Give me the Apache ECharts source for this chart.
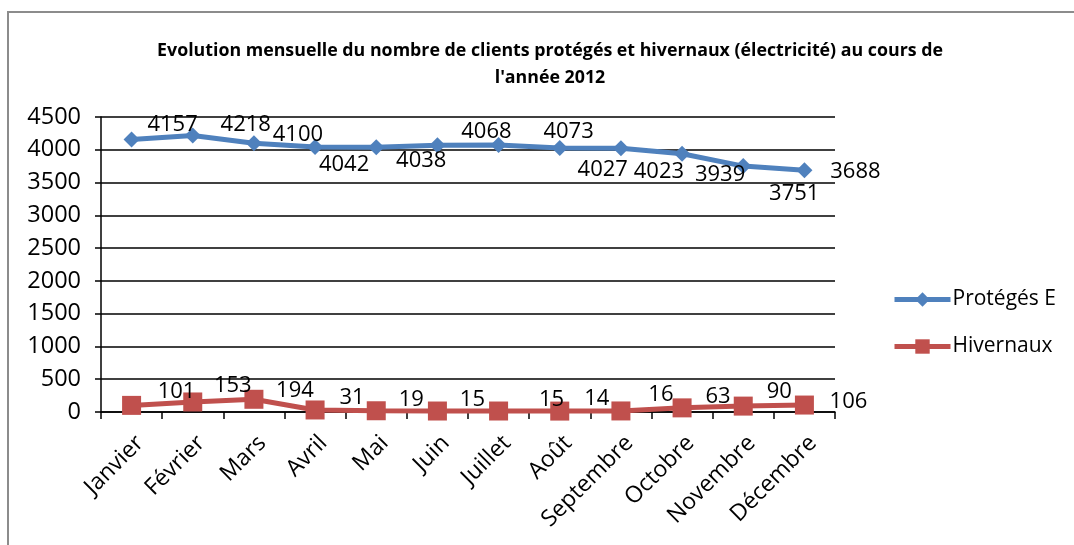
<!DOCTYPE html>
<html>
<head>
<meta charset="utf-8">
<script src="https://cdn.jsdelivr.net/npm/echarts@6/dist/echarts.min.js"></script>
<style>
  html, body { margin:0; padding:0; background:#fff; }
  #chart { width:1074px; height:545px; }
</style>
</head>
<body>
<div id="chart"></div>
<script>
// Months (category axis)
const months = ['Janvier','Février','Mars','Avril','Mai','Juin','Juillet','Août','Septembre','Octobre','Novembre','Décembre'];
// Series values
const protegesE = [4157, 4218, 4100, 4042, 4038, 4068, 4073, 4027, 4023, 3939, 3751, 3688];
const hivernaux = [101, 153, 194, 31, 19, 15, 15, 14, 16, 63, 90, 106];
// Value axis ticks
const yMin = 0, yMax = 4500, yStep = 500;

// label nudges (px), Excel-style manual placement
const protLabelShift = [[41,-15],[53,-11],[44,-8],[29,18],[45,13],[49,-14],[70,-13],[43,22],[38,23],[38,21],[51,28],[51,2]];
const hivLabelShift  = [[45,-14],[40,-16],[41,-9],[37,-12],[35,-11],[35,-11],[53,-11],[37,-12],[40,-16],[36,-11],[36,-14],[44,-3]];

const FONT = '"Open Sans", "Liberation Sans", sans-serif';

function withLabels(vals, shifts){
  return vals.map((v, i) => ({ value: v, label: { offset: shifts[i] } }));
}

const el = document.getElementById('chart');
const inst = echarts.init(el, null, { renderer: 'canvas' });
inst.setOption({
  animation: false,
  backgroundColor: '#fff',
  textStyle: { fontFamily: FONT },
  graphic: [{
    type: 'rect',
    shape: { x: 8, y: 12, width: 1080, height: 560 },
    style: { fill: 'none', stroke: '#8c8c8c', lineWidth: 2 },
    silent: true
  }],
  title: {
    text: 'Evolution mensuelle du nombre de clients protégés et hivernaux (électricité) au cours de\nl\'année 2012',
    left: 545,
    top: 32,
    textAlign: 'center',
    textStyle: { fontFamily: FONT, fontSize: 17.8, fontWeight: 'bold', color: '#000', lineHeight: 27 }
  },
  legend: {
    orient: 'vertical',
    left: 887,
    top: 284,
    itemWidth: 56,
    itemHeight: 18,
    itemGap: 26,
    lineStyle: { width: 5 },
    textStyle: { fontFamily: FONT, fontSize: 21, color: '#000', padding: [0,0,0,-3] },
    data: ['Protégés E', 'Hivernaux']
  },
  grid: { left: 101, right: 239, top: 117, bottom: 133 },
  xAxis: {
    type: 'category',
    data: months,
    boundaryGap: true,
    axisLine: { lineStyle: { color: '#000', width: 1.5 } },
    axisTick: { show: true, interval: 0, length: 7, lineStyle: { color: '#000', width: 1.5 } },
    axisLabel: { interval: 0, rotate: 45, fontSize: 23, color: '#000', margin: 36, padding: [0, -12, 0, 0], fontFamily: FONT }
  },
  yAxis: {
    type: 'value',
    min: yMin,
    max: yMax,
    interval: yStep,
    axisLine: { show: true, lineStyle: { color: '#000', width: 1.5 } },
    axisTick: { show: true, length: 6, lineStyle: { color: '#000', width: 1.5 } },
    axisLabel: { fontSize: 23.5, color: '#000', margin: 20, fontFamily: FONT, formatter: v => String(v) },
    splitLine: { lineStyle: { color: '#000', width: 1.5 } }
  },
  series: [
    {
      name: 'Protégés E',
      type: 'line',
      data: withLabels(protegesE, protLabelShift),
      symbol: 'diamond',
      symbolSize: 16,
      color: '#4F81BD',
      lineStyle: { width: 5, color: '#4F81BD' },
      itemStyle: { color: '#4F81BD' },
      label: { show: true, position: 'inside', fontSize: 22, color: '#000', fontFamily: FONT },
      z: 3
    },
    {
      name: 'Hivernaux',
      type: 'line',
      data: withLabels(hivernaux, hivLabelShift),
      symbol: 'rect',
      symbolSize: 19,
      color: '#C0504D',
      lineStyle: { width: 5, color: '#C0504D' },
      itemStyle: { color: '#C0504D' },
      label: { show: true, position: 'inside', fontSize: 22, color: '#000', fontFamily: FONT },
      z: 3
    }
  ]
});
window.addEventListener('resize', () => { try { inst.resize(); } catch (e) {} }, { passive: true });
</script>
</body>
</html>
